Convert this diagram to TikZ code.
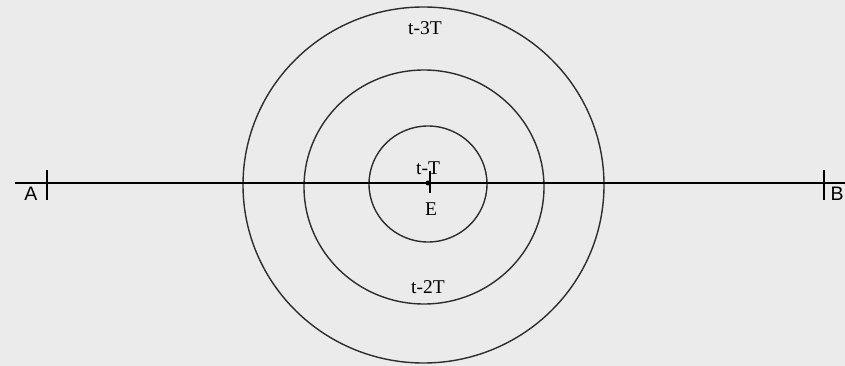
\documentclass[tikz,border=0pt]{standalone}
\usepackage{fontspec}
\setmainfont{Liberation Serif}
\setsansfont{Liberation Sans}
\usetikzlibrary{positioning}

\definecolor{bggray}{RGB}{235,235,235}
\definecolor{ringgray}{RGB}{45,45,45}

\begin{document}
\begin{tikzpicture}[
  x=1pt, y=-1pt,
  ring/.style={draw=ringgray, line width=1.4pt},
  axis/.style={draw=black, line width=2pt},
  lbl/.style={font=\fontsize{19.5}{22}\selectfont, inner sep=0pt},
  endlbl/.style={font=\sffamily\fontsize{19.5}{22}\selectfont, inner sep=0pt}
]
  \fill[bggray] (0,0) rectangle (845,366);
  \useasboundingbox (0,0) rectangle (845,366);
  % centres of the rings
  \coordinate (c1) at (428,184);
  \coordinate (c2) at (424,187);
  \coordinate (c3) at (423.5,185);
  \draw[ring] (c1) ellipse [x radius=59, y radius=58];
  \draw[ring] (c2) ellipse [x radius=120, y radius=117];
  \draw[ring] (c3) ellipse [x radius=180.5, y radius=178];
  % line A--B
  \coordinate (lineL) at (15,183);
  \coordinate (lineR) at (845,183);
  \draw[axis] (lineL) -- (lineR);
  \coordinate (tickAt) at (47,170);
  \coordinate (tickAb) at (47,200);
  \coordinate (tickBt) at (824,170);
  \coordinate (tickBb) at (824,200);
  \draw[axis] (tickAt) -- (tickAb);
  \draw[axis] (tickBt) -- (tickBb);
  \node[endlbl] (a) at (31,193.5) {A};
  \node[endlbl] (b) at (837,193.5) {B};
  % source E
  \node[circle, fill=black, inner sep=0pt, minimum size=5pt] (src) at (428,183) {};
  \coordinate (srcT) at (430,171);
  \coordinate (srcB) at (430,193);
  \draw[line width=1.5pt] (srcT) -- (srcB);
  \node[lbl] (e)  at (431,209) {E};
  \node[lbl] (t1) at (428,168) {t-T};
  \node[lbl] (t2) at (428,287) {t-2T};
  \node[lbl] (t3) at (425,28)  {t-3T};
\end{tikzpicture}
\end{document}
